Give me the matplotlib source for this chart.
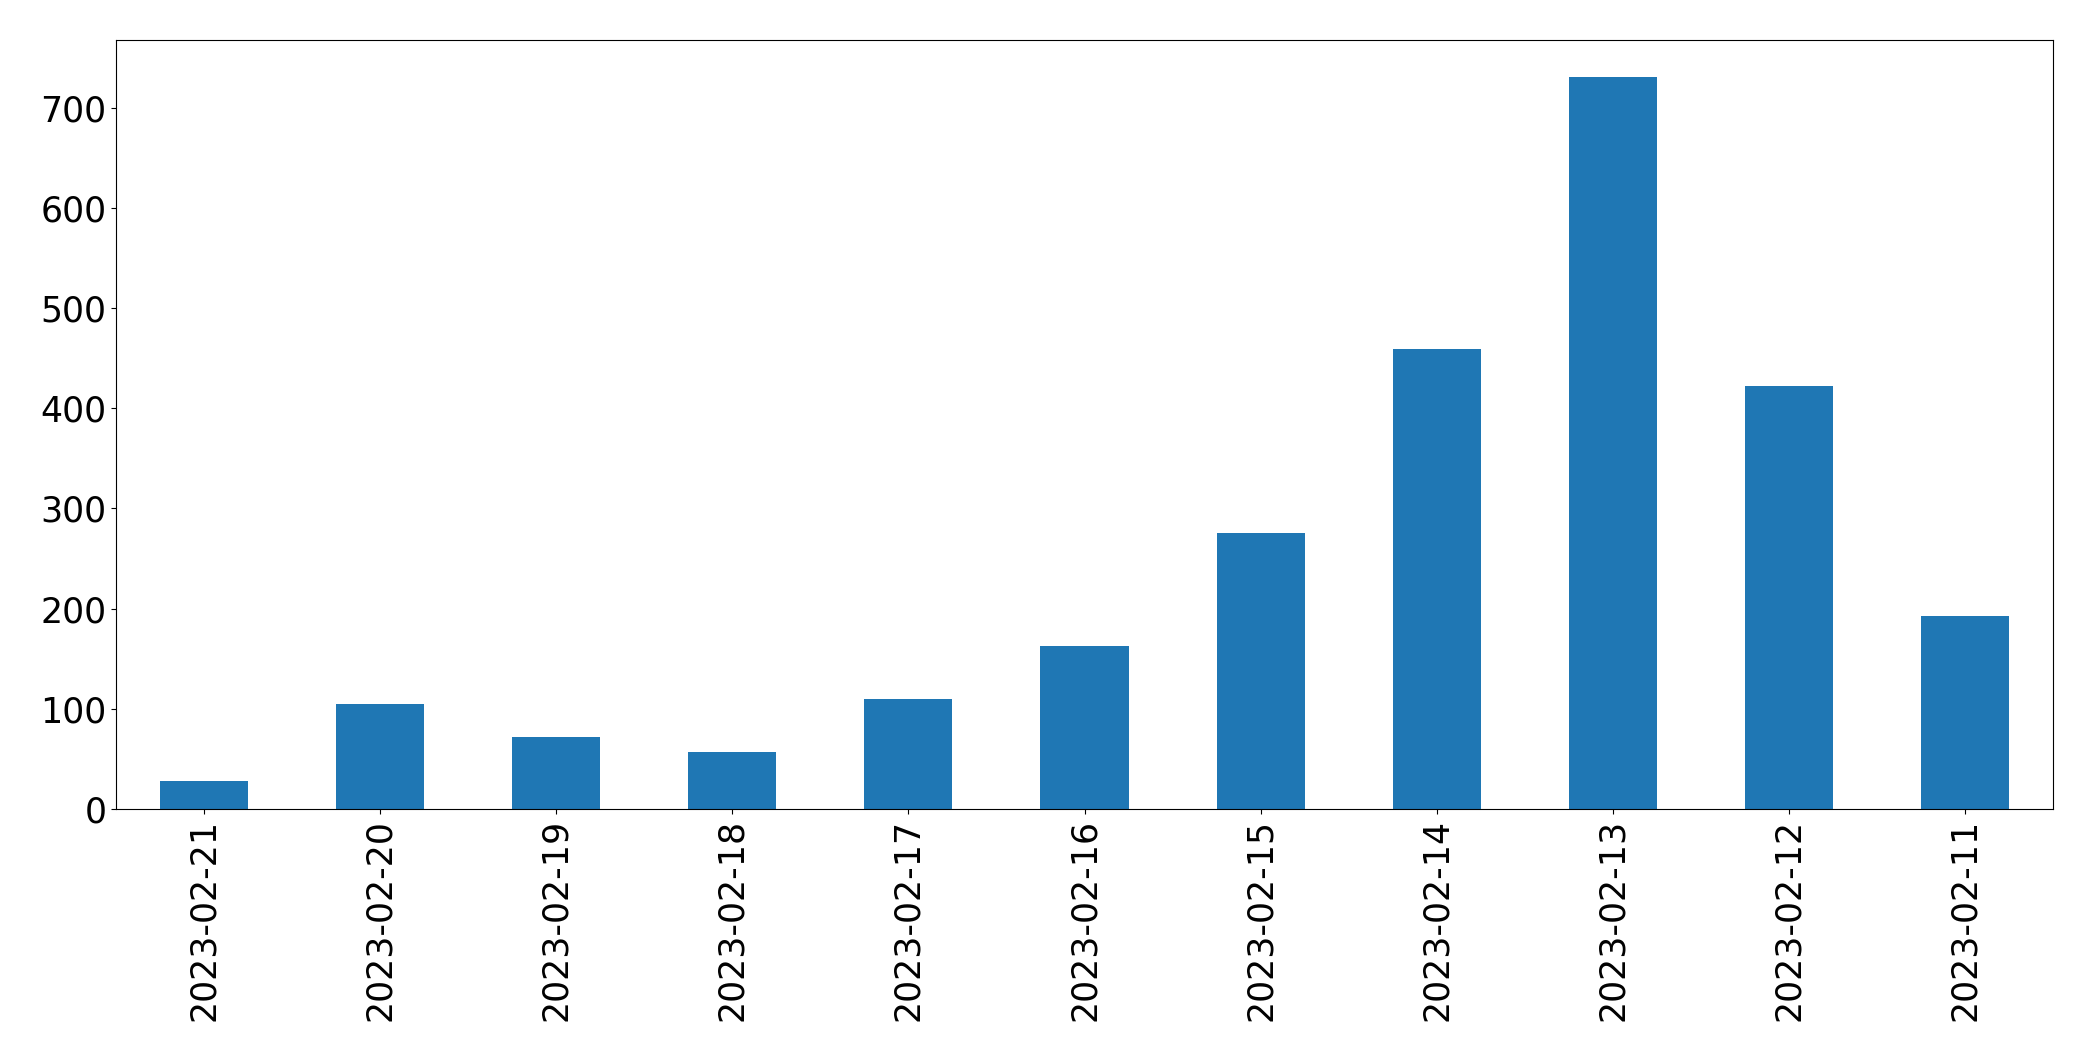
import matplotlib
matplotlib.use("Agg")
import matplotlib.pyplot as plt
import numpy as np

# dates in the order shown, newest first
dates = ["2023-02-21", "2023-02-20", "2023-02-19", "2023-02-18", "2023-02-17",
         "2023-02-16", "2023-02-15", "2023-02-14", "2023-02-13", "2023-02-12",
         "2023-02-11"]
counts = [28, 105, 72, 57, 110, 163, 275, 459, 731, 422, 193]

fig = plt.figure(figsize=(20.93, 10.61), dpi=100)
ax = fig.add_axes([116 / 2093, 1 - 809 / 1061, (2053 - 116) / 2093, (809 - 40) / 1061])

x = np.arange(len(dates))
ax.bar(x, counts, width=0.5, color="#1f77b4")
ax.set_xlim(-0.5, len(dates) - 0.5)
ax.set_ylim(0, max(counts) * 1.05)
ax.set_xticks(x)
ax.set_xticklabels(dates, rotation=90)
ax.tick_params(axis="both", labelsize=25)

fig.savefig("out.png", dpi=100)
